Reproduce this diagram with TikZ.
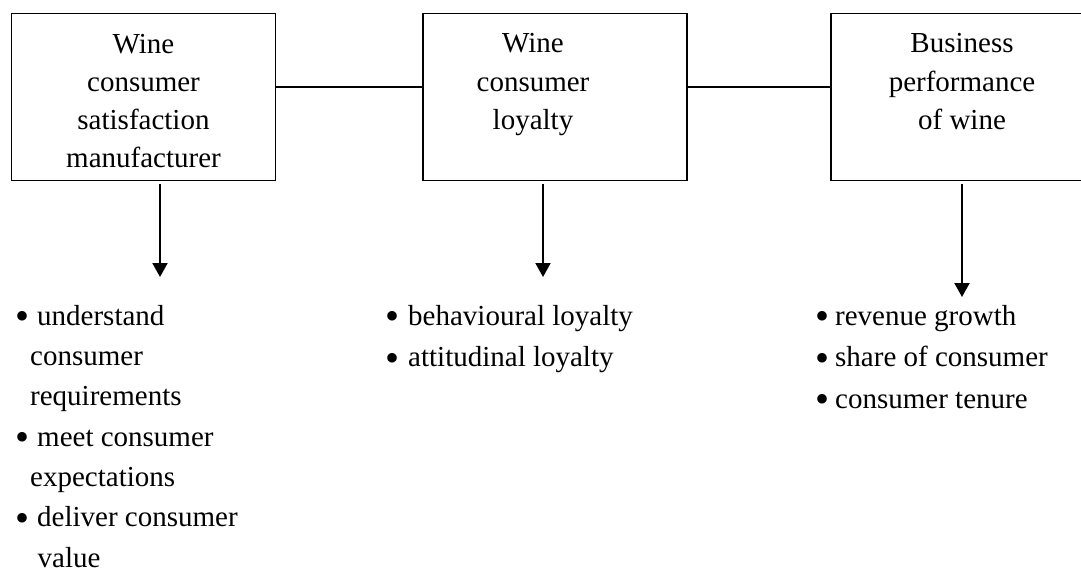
\documentclass[tikz,border=0pt]{standalone}
\usepackage{fontspec}
\setmainfont{Liberation Serif}
\usetikzlibrary{arrows.meta}
\newcommand\lbul[1]{\makebox[#1][l]{\raisebox{-4.5pt}{\fontsize{40}{40}\selectfont •}}}
\begin{document}
\begin{tikzpicture}[x=1pt,y=-1pt,
  box/.style={draw,line width=1.6pt,minimum width=264pt,minimum height=167pt,inner sep=0pt},
  boxtext/.style={align=center,font=\fontsize{29}{38.3}\selectfont,inner sep=0pt,anchor=base},
  list/.style={align=left,font=\fontsize{29}{41.5}\selectfont,inner sep=0pt,anchor=base west},
  link/.style={line width=1.3pt},
  arr/.style={line width=2pt,-{Triangle[length=14pt,width=15pt]}}]
\useasboundingbox (0,0) rectangle (1081,572);
% boxes
\node[box] (b1) at (143.5,97) {};
\node[box] (b2) at (555,97) {};
\node[box] (b3) at (963,97) {};
% box texts (anchored at the baseline of the last line)
\node[boxtext] (t1) at (143.5,168) {Wine\\consumer\\satisfaction\\manufacturer};
\node[boxtext] (t2) at (533,129.6) {Wine\\consumer\\loyalty};
\node[boxtext] (t3) at (962,129.6) {Business\\performance\\of wine};
% links
\draw[link] ([yshift=10pt]b1.east) -- ([yshift=10pt]b2.west);
\draw[link] ([yshift=10pt]b2.east) -- ([yshift=10pt]b3.west);
% arrows
\coordinate (e1) at (160,277);
\coordinate (e2) at (543,277);
\coordinate (e3) at (962,297);
\draw[arr] ([yshift=-2.5pt]e1 |- b1.south) -- (e1);
\draw[arr] ([yshift=-2.5pt]e2 |- b2.south) -- (e2);
\draw[arr] ([yshift=-2.5pt]e3 |- b3.south) -- (e3);
% lists (anchored at the baseline of the last line)
\node[list,font=\fontsize{29}{40.3}\selectfont] (l1) at (15.5,567) {\lbul{21.5pt}understand\\\hspace*{14.5pt}consumer\\\hspace*{14.5pt}requirements\\\lbul{21.5pt}meet consumer\\\hspace*{14.5pt}expectations\\\lbul{21.5pt}deliver consumer\\\hspace*{22pt}value};
\node[list] (l2) at (385.5,366.5) {\lbul{22.5pt}behavioural loyalty\\\lbul{22.5pt}attitudinal loyalty};
\node[list] (l3) at (815.5,408) {\lbul{19.5pt}revenue growth\\\lbul{19.5pt}share of consumer\\\lbul{19.5pt}consumer tenure};
\end{tikzpicture}
\end{document}
